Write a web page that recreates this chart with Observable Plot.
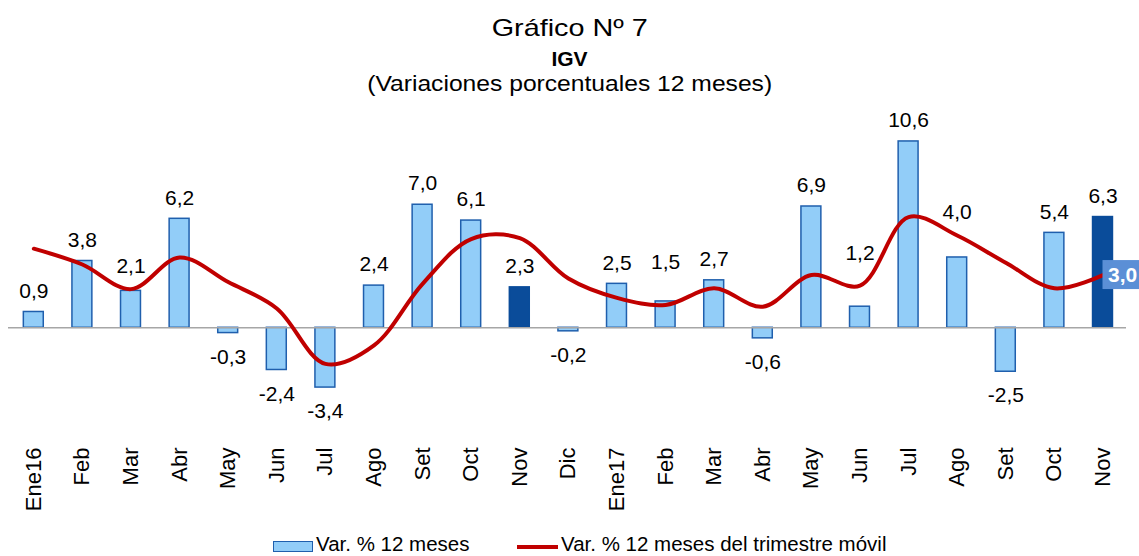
<!DOCTYPE html>
<html>
<head>
<meta charset="utf-8">
<script src="https://cdn.jsdelivr.net/npm/d3@7"></script>
<script src="https://cdn.jsdelivr.net/npm/@observablehq/plot@0.6"></script>
<style>
  body { margin: 0; background: #fff; font-family: "Liberation Sans", Arial, sans-serif; }
  #wrap { position: relative; width: 1139px; height: 556px; overflow: hidden; background: #fff; }
  .t { position: absolute; left: 0; width: 1139px; text-align: center; line-height: 1; white-space: nowrap; color: #000; transform-origin: 568px 50%; }
  #chart { position: absolute; left: 0; top: 105px; }
  .lt { position: absolute; top: 534px; font-size: 20.5px; line-height: 1; white-space: nowrap; color: #000; }
</style>
</head>
<body>
<div id="wrap">
  <div class="t" style="top:16px;font-size:24px;transform:scaleX(1.2)">Gráfico Nº 7</div>
  <div class="t" style="top:48px;font-size:21px;font-weight:bold">IGV</div>
  <div class="t" style="top:73px;font-size:22px;transform:scaleX(1.12)">(Variaciones porcentuales 12 meses)</div>
  <div id="chart"></div>
  <div style="position:absolute;left:273px;top:541px;width:40px;height:11px;box-sizing:border-box;background:#92CDF8;border:1.5px solid #1F5FAD"></div>
  <div class="lt" style="left:316px">Var. % 12 meses</div>
  <div style="position:absolute;left:517px;top:545px;width:41px;height:4px;background:#C00000"></div>
  <div class="lt" style="left:561px">Var. % 12 meses del trimestre móvil</div>
</div>
<script>
const months = ["Ene16","Feb","Mar","Abr","May","Jun","Jul","Ago","Set","Oct","Nov","Dic",
                "Ene17","Feb","Mar","Abr","May","Jun","Jul","Ago","Set","Oct","Nov"];
const var12 = [0.9,3.8,2.1,6.2,-0.3,-2.4,-3.4,2.4,7.0,6.1,2.3,-0.2,
               2.5,1.5,2.7,-0.6,6.9,1.2,10.6,4.0,-2.5,5.4,6.3];
const movil = [4.5,3.6,2.2,4.0,2.6,1.1,-2.05,-1.0,2.5,5.05,5.1,2.8,
               1.7,1.3,2.25,1.2,3.0,2.4,6.3,5.25,3.7,2.25,3.0];

const data = months.map((m, i) => ({i, m, v: var12[i], t: movil[i]}));
const last = data[data.length - 1];
const fmt = v => d3.format(".1f")(v).replace(".", ",").replace("\u2212", "-");
const isHi = d => d.m === "Nov";
const FONT = "Liberation Sans, Arial, sans-serif";

// extra upward nudges for labels displaced by the line (px)
const lift = {2: -4, 13: -18, 17: -32, 19: -24};

const k = 17.58, zeroY = 222.3;
const labelMarks = [
  Plot.text(data.filter(d => d.v >= 0 && lift[d.i] === undefined),
    {x: "i", y: "v", text: d => fmt(d.v), dy: -21, fontSize: 21, fill: "#000"}),
  Plot.text(data.filter(d => d.v < 0),
    {x: "i", y: "v", text: d => fmt(d.v), dy: 24, fontSize: 21, fill: "#000"}),
  ...Object.entries(lift).map(([i, e]) =>
    Plot.text([data[+i]], {x: "i", y: "v", text: d => fmt(d.v), dy: -21 + e, fontSize: 21, fill: "#000"}))
];

const chart = Plot.plot({
  width: 1139,
  height: 420,
  marginLeft: 8,
  marginRight: 13,
  marginTop: 0,
  marginBottom: 80,
  style: {fontFamily: FONT, background: "transparent", overflow: "visible"},
  x: {type: "band", domain: d3.range(months.length), range: [9, 1126.8], round: false,
      paddingInner: 0.59, paddingOuter: 0.295, axis: null},
  y: {domain: [-5, 12], range: [zeroY + 5 * k, zeroY - 12 * k], axis: null},
  marks: [
    Plot.barY(data, {x: "i", y: "v",
      fill: d => isHi(d) ? "#0A4C9A" : "#92CDF8",
      stroke: d => isHi(d) ? "#0A4C9A" : "#1F5FAD", strokeWidth: 1.5}),
    Plot.ruleY([0], {stroke: "#A6A6A6", strokeWidth: 1.5}),
    Plot.lineY(data, {x: "i", y: "t", stroke: "#C00000", strokeWidth: 4, curve: "catmull-rom"}),
    Plot.axisX({tickSize: 0, tickPadding: 2, tickRotate: -90, fontSize: 22, fill: "#000",
      label: null, tickFormat: i => months[i]}),
    ...labelMarks,
    Plot.text([last], {x: "i", y: "t", text: d => fmt(d.t), textAnchor: "start", dx: 5,
      fill: "#fff", fontWeight: "bold", fontSize: 21})
  ]
});
document.getElementById("chart").appendChild(chart);

// background box behind the last-month moving-average label
const sx = chart.scale("x"), sy = chart.scale("y");
const cx = sx.apply(last.i) + sx.bandwidth / 2;
const cy = sy.apply(last.t);
const lastG = chart.lastElementChild;
const rect = document.createElementNS("http://www.w3.org/2000/svg", "rect");
rect.setAttribute("x", cx);
rect.setAttribute("y", cy - 14.5);
rect.setAttribute("width", 40);
rect.setAttribute("height", 29);
rect.setAttribute("fill", "#5B8FD6");
chart.insertBefore(rect, lastG);
</script>
</body>
</html>
